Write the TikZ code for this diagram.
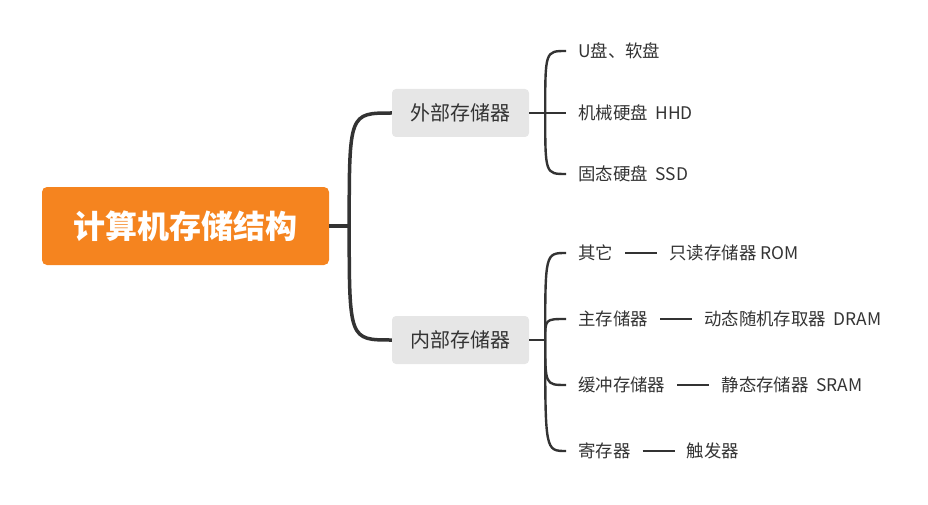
\documentclass[tikz,border=0pt]{standalone}
\usepackage{fontspec}
\setmainfont{Noto Sans CJK SC}
\usetikzlibrary{positioning}
\definecolor{naranja}{HTML}{F5841F}
\definecolor{gris}{HTML}{E6E6E6}
\definecolor{tinta}{HTML}{333333}
\tikzset{
	raiz/.style={fill=naranja, rounded corners=5pt, minimum width=287pt, minimum height=78pt, text=white, font=\fontsize{32}{38}\selectfont\bfseries},
	rama/.style={fill=gris, rounded corners=4pt, minimum width=137pt, minimum height=48pt, text=tinta, font=\fontsize{20}{24}\selectfont},
	hoja/.style={anchor=west, inner xsep=12pt, inner ysep=2pt, text=tinta, font=\fontsize{17.4}{21}\selectfont},
	linea/.style={draw=tinta, line width=2.4pt},
	tronco/.style={draw=tinta, line width=3.5pt},
}
\begin{document}
\begin{tikzpicture}[x=1pt, y=-1pt]
	\useasboundingbox (0,0) rectangle (928,505);
	\node[raiz] (raiz) at (185.5,226) {计算机存储结构};
	\node[rama] (ext) at (460.5,113) {外部存储器};
	\node[rama] (int) at (460.5,340) {内部存储器};
	
	% primer nivel
	\draw[tronco] (raiz.east) -- ++(20,0) coordinate (r0);
	\foreach \n in {ext, int}{
		\draw[tronco] (r0) .. controls (r0 |- \n.west) .. (\n.west);}
	
	% externos
	\node[hoja] (e1) at (566,51) {U盘、软盘};
	\node[hoja] (e2) at (566,113) {机械硬盘~~HHD};
	\node[hoja] (e3) at (566,174) {固态硬盘~~SSD};
	\draw[linea] (ext.east) -- ++(16,0) coordinate (e0);
	\foreach \n in {e1, e2, e3}{
		\draw[linea] (e0) .. controls (e0 |- \n.west) .. (\n.west);}
	
	% internos
	\node[hoja] (i1) at (566,253) {其它};
	\node[hoja] (i2) at (566,319) {主存储器};
	\node[hoja] (i3) at (566,385) {缓冲存储器};
	\node[hoja] (i4) at (566,451) {寄存器};
	\draw[linea] (int.east) -- ++(16,0) coordinate (i0);
	\foreach \n in {i1, i2, i3, i4}{
		\draw[linea] (i0) .. controls (i0 |- \n.west) .. (\n.west);}
	
	\node[hoja, right=32pt of i1] (g1) {只读存储器 ROM};
	\node[hoja, right=32pt of i2] (g2) {动态随机存取器~~DRAM};
	\node[hoja, right=32pt of i3] (g3) {静态存储器~~SRAM};
	\node[hoja, right=32pt of i4] (g4) {触发器};
	\foreach \a/\b in {i1/g1, i2/g2, i3/g3, i4/g4}{
		\draw[linea] (\a) -- (\b);}
\end{tikzpicture}
\end{document}
